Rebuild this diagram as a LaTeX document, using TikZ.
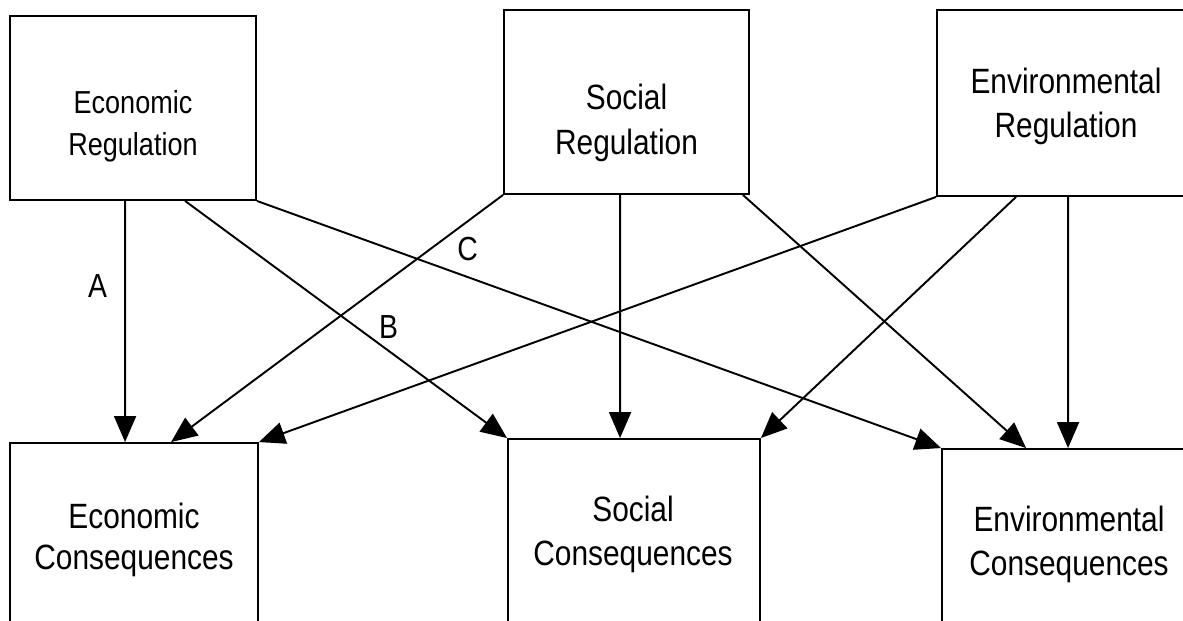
\documentclass[tikz,border=0pt]{standalone}
\usepackage{fontspec}
\setmainfont{Liberation Sans}[FakeStretch=0.85]
\usetikzlibrary{arrows.meta, calc}

\begin{document}
\begin{tikzpicture}[x=0.02cm, y=-0.02cm, line width=1.1pt,
 >={Triangle[length=0.52cm,width=0.44cm]},
 box node/.style={draw, inner sep=0pt},
 name node/.style={align=center, inner sep=0pt, font=\fontsize{20}{25.5}\selectfont},
 letter node/.style={inner sep=0pt, font=\fontsize{19}{20}\selectfont}]

  \useasboundingbox (0,0) rectangle (1183,621);
  \clip (0,0) rectangle (1183,621);

  % regulation boxes
  \node[box node, minimum width=4.92cm, minimum height=3.68cm] (econ reg) at (133,108) {};
  \node[box node, minimum width=4.9cm, minimum height=3.68cm] (soc reg) at (626.5,102) {};
  \node[box node, minimum width=5.2cm, minimum height=3.72cm] (env reg) at (1067,103) {};

  % consequence boxes
  \node[box node, minimum width=4.96cm, minimum height=3.76cm] (econ cons) at (134,537) {};
  \node[box node, minimum width=5.04cm, minimum height=3.76cm] (soc cons) at (634,533) {};
  \node[box node, minimum width=5.04cm, minimum height=3.76cm] (env cons) at (1068,543) {};

  \node[name node, font=\fontsize{18.1}{24}\selectfont] (econ reg text) at (133,126) {Economic\\Regulation};
  \node[name node] (soc reg text) at (626.5,123) {Social\\Regulation};
  \node[name node] (env reg text) at (1066,106.5) {Environmental\\Regulation};
  \node[name node, font=\fontsize{20}{23}\selectfont] (econ cons text) at (134,540) {Economic\\Consequences};
  \node[name node] (soc cons text) at (633,534.5) {Social\\Consequences};
  \node[name node] (env cons text) at (1069,544.5) {Environmental\\Consequences};

  % from economic regulation
  \draw[->] ($(econ reg.south west)+(116,0)$) -- node[letter node, pos=0.354, left=0.34cm] {A} ($(econ cons.north west)+(116,0)$);
  \draw[->] ($(econ reg.south west)+(176,0)$) -- node[letter node, pos=0.533, xshift=0.64cm] {B} (soc cons.north west);
  \draw[->] (econ reg.south east) -- node[letter node, pos=0.308, yshift=0.56cm] {C} (env cons.north west);

  % from social regulation
  \draw[->] (soc reg.south west) -- ($(econ cons.north west)+(162,0)$);
  \draw[->] ($(soc reg.south west)+(117,0)$) -- ($(soc cons.north west)+(113,0)$);
  \draw[->] ($(soc reg.south east)+(-7,0)$) -- ($(env cons.north west)+(85,0)$);

  % from environmental regulation
  \draw[->] (env reg.south west) -- (econ cons.north east);
  \draw[->] ($(env reg.south west)+(80,0)$) -- (soc cons.north east);
  \draw[->] ($(env reg.south west)+(132,0)$) -- ($(env cons.north west)+(127,0)$);
\end{tikzpicture}
\end{document}
